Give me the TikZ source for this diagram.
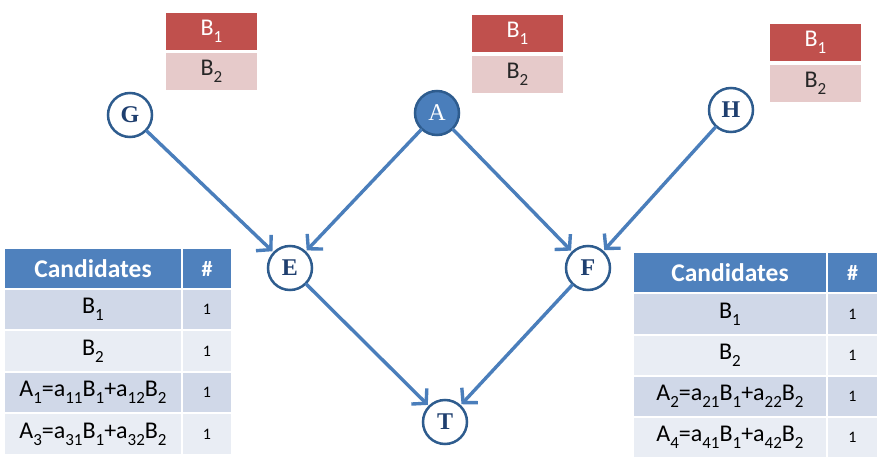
\documentclass[tikz,border=0pt]{standalone}
\usepackage{fontspec}
\setmainfont{Carlito}
\newfontfamily\serifb{Liberation Serif}
\usetikzlibrary{arrows.meta}
\definecolor{hdr}{HTML}{4F81BD}
\definecolor{rowA}{HTML}{D0D8E8}
\definecolor{rowB}{HTML}{E9EDF4}
\definecolor{bred}{HTML}{C0504D}
\definecolor{bpink}{HTML}{E6CACA}
\definecolor{edgeblue}{HTML}{4A7EBB}
\definecolor{ringblue}{HTML}{2E5C8E}
\definecolor{txtblue}{HTML}{1F3F6F}
\newcommand\sbs[1]{\raisebox{-0.3em}{\fontsize{17}{17}\selectfont #1}}
\tikzset{
  gnode/.style={circle, draw=ringblue, line width=2.5pt, fill=white, minimum size=44pt, inner sep=0pt,
    font=\serifb\bfseries\fontsize{24}{24}\selectfont, text=txtblue},
  gfill/.style={gnode, fill=edgeblue, text=white, font=\serifb\fontsize{24}{24}\selectfont},
  edge/.style={draw=edgeblue, line width=3.4pt, line cap=round, -{Straight Barb[length=10pt,width=22pt]}, shorten >=1pt},
  cell/.style={rectangle, draw=white, line width=2pt, inner sep=0pt, anchor=north west,
    font=\fontsize{24}{26}\selectfont, text=black},
  hcell/.style={cell, fill=hdr, text=white, font=\bfseries\fontsize{25.5}{27}\selectfont},
  hashcell/.style={cell, fill=hdr, text=white, font=\bfseries\fontsize{22}{24}\selectfont},
  ncell/.style={cell, font=\fontsize{16}{17}\selectfont},
  bone/.style={cell, fill=bred, text=white, minimum width=93pt, minimum height=39pt},
  btwo/.style={cell, fill=bpink, text=black!85, minimum width=93pt, minimum height=39pt},
}
\begin{document}
\begin{tikzpicture}[x=1pt,y=-1pt]
\useasboundingbox (0,0) rectangle (884,468);
% B boxes
\node[bone] (lb1) at (164,11) {B\sbs{1}};
\node[btwo] (lb2) at (164,51) {B\sbs{2}};
\node[bone] (mb1) at (470,13) {B\sbs{1}};
\node[btwo] (mb2) at (470,54) {B\sbs{2}};
\node[bone] (rb1) at (768,22) {B\sbs{1}};
\node[btwo] (rb2) at (768,63) {B\sbs{2}};
% graph nodes
\node[gnode] (G) at (130,115) {G};
\node[gfill] (A) at (437,113) {A};
\node[gnode] (H) at (731,110) {H};
\node[gnode] (E) at (290,268) {E};
\node[gnode] (F) at (588,268) {F};
\node[gnode] (T) at (445,422) {T};
\draw[edge] (G) -- (E);
\draw[edge] (A) -- (E);
\draw[edge] (A) -- (F);
\draw[edge] (H) -- (F);
\draw[edge] (E) -- (T);
\draw[edge] (F) -- (T);
% left table
\node[hcell, minimum width=178pt, minimum height=41pt] (lh1) at (3,247) {Candidates};
\node[hashcell, minimum width=50pt, minimum height=41pt] (lh2) at (181,247) {\#};
\node[cell, fill=rowA, minimum width=178pt, minimum height=41pt] (lr1) at (3,288) {B\sbs{1}};
\node[ncell, fill=rowA, minimum width=50pt, minimum height=41pt] (ln1) at (181,288) {1};
\node[cell, fill=rowB, minimum width=178pt, minimum height=42pt] (lr2) at (3,329) {B\sbs{2}};
\node[ncell, fill=rowB, minimum width=50pt, minimum height=42pt] (ln2) at (181,329) {1};
\node[cell, fill=rowA, minimum width=178pt, minimum height=41pt] (lr3) at (3,371) {A\sbs{1}=a\sbs{11}B\sbs{1}+a\sbs{12}B\sbs{2}};
\node[ncell, fill=rowA, minimum width=50pt, minimum height=41pt] (ln3) at (181,371) {1};
\node[cell, fill=rowB, minimum width=178pt, minimum height=42pt] (lr4) at (3,412) {A\sbs{3}=a\sbs{31}B\sbs{1}+a\sbs{32}B\sbs{2}};
\node[ncell, fill=rowB, minimum width=50pt, minimum height=42pt] (ln4) at (181,412) {1};
% right table
\node[hcell, minimum width=194pt, minimum height=41pt] (rh1) at (632,251) {Candidates};
\node[hashcell, minimum width=51pt, minimum height=41pt] (rh2) at (826,251) {\#};
\node[cell, fill=rowA, minimum width=194pt, minimum height=42pt] (rr1) at (632,292) {B\sbs{1}};
\node[ncell, fill=rowA, minimum width=51pt, minimum height=42pt] (rn1) at (826,292) {1};
\node[cell, fill=rowB, minimum width=194pt, minimum height=41pt] (rr2) at (632,334) {B\sbs{2}};
\node[ncell, fill=rowB, minimum width=51pt, minimum height=41pt] (rn2) at (826,334) {1};
\node[cell, fill=rowA, minimum width=194pt, minimum height=41pt] (rr3) at (632,375) {A\sbs{2}=a\sbs{21}B\sbs{1}+a\sbs{22}B\sbs{2}};
\node[ncell, fill=rowA, minimum width=51pt, minimum height=41pt] (rn3) at (826,375) {1};
\node[cell, fill=rowB, minimum width=194pt, minimum height=41pt] (rr4) at (632,416) {A\sbs{4}=a\sbs{41}B\sbs{1}+a\sbs{42}B\sbs{2}};
\node[ncell, fill=rowB, minimum width=51pt, minimum height=41pt] (rn4) at (826,416) {1};
\end{tikzpicture}
\end{document}
